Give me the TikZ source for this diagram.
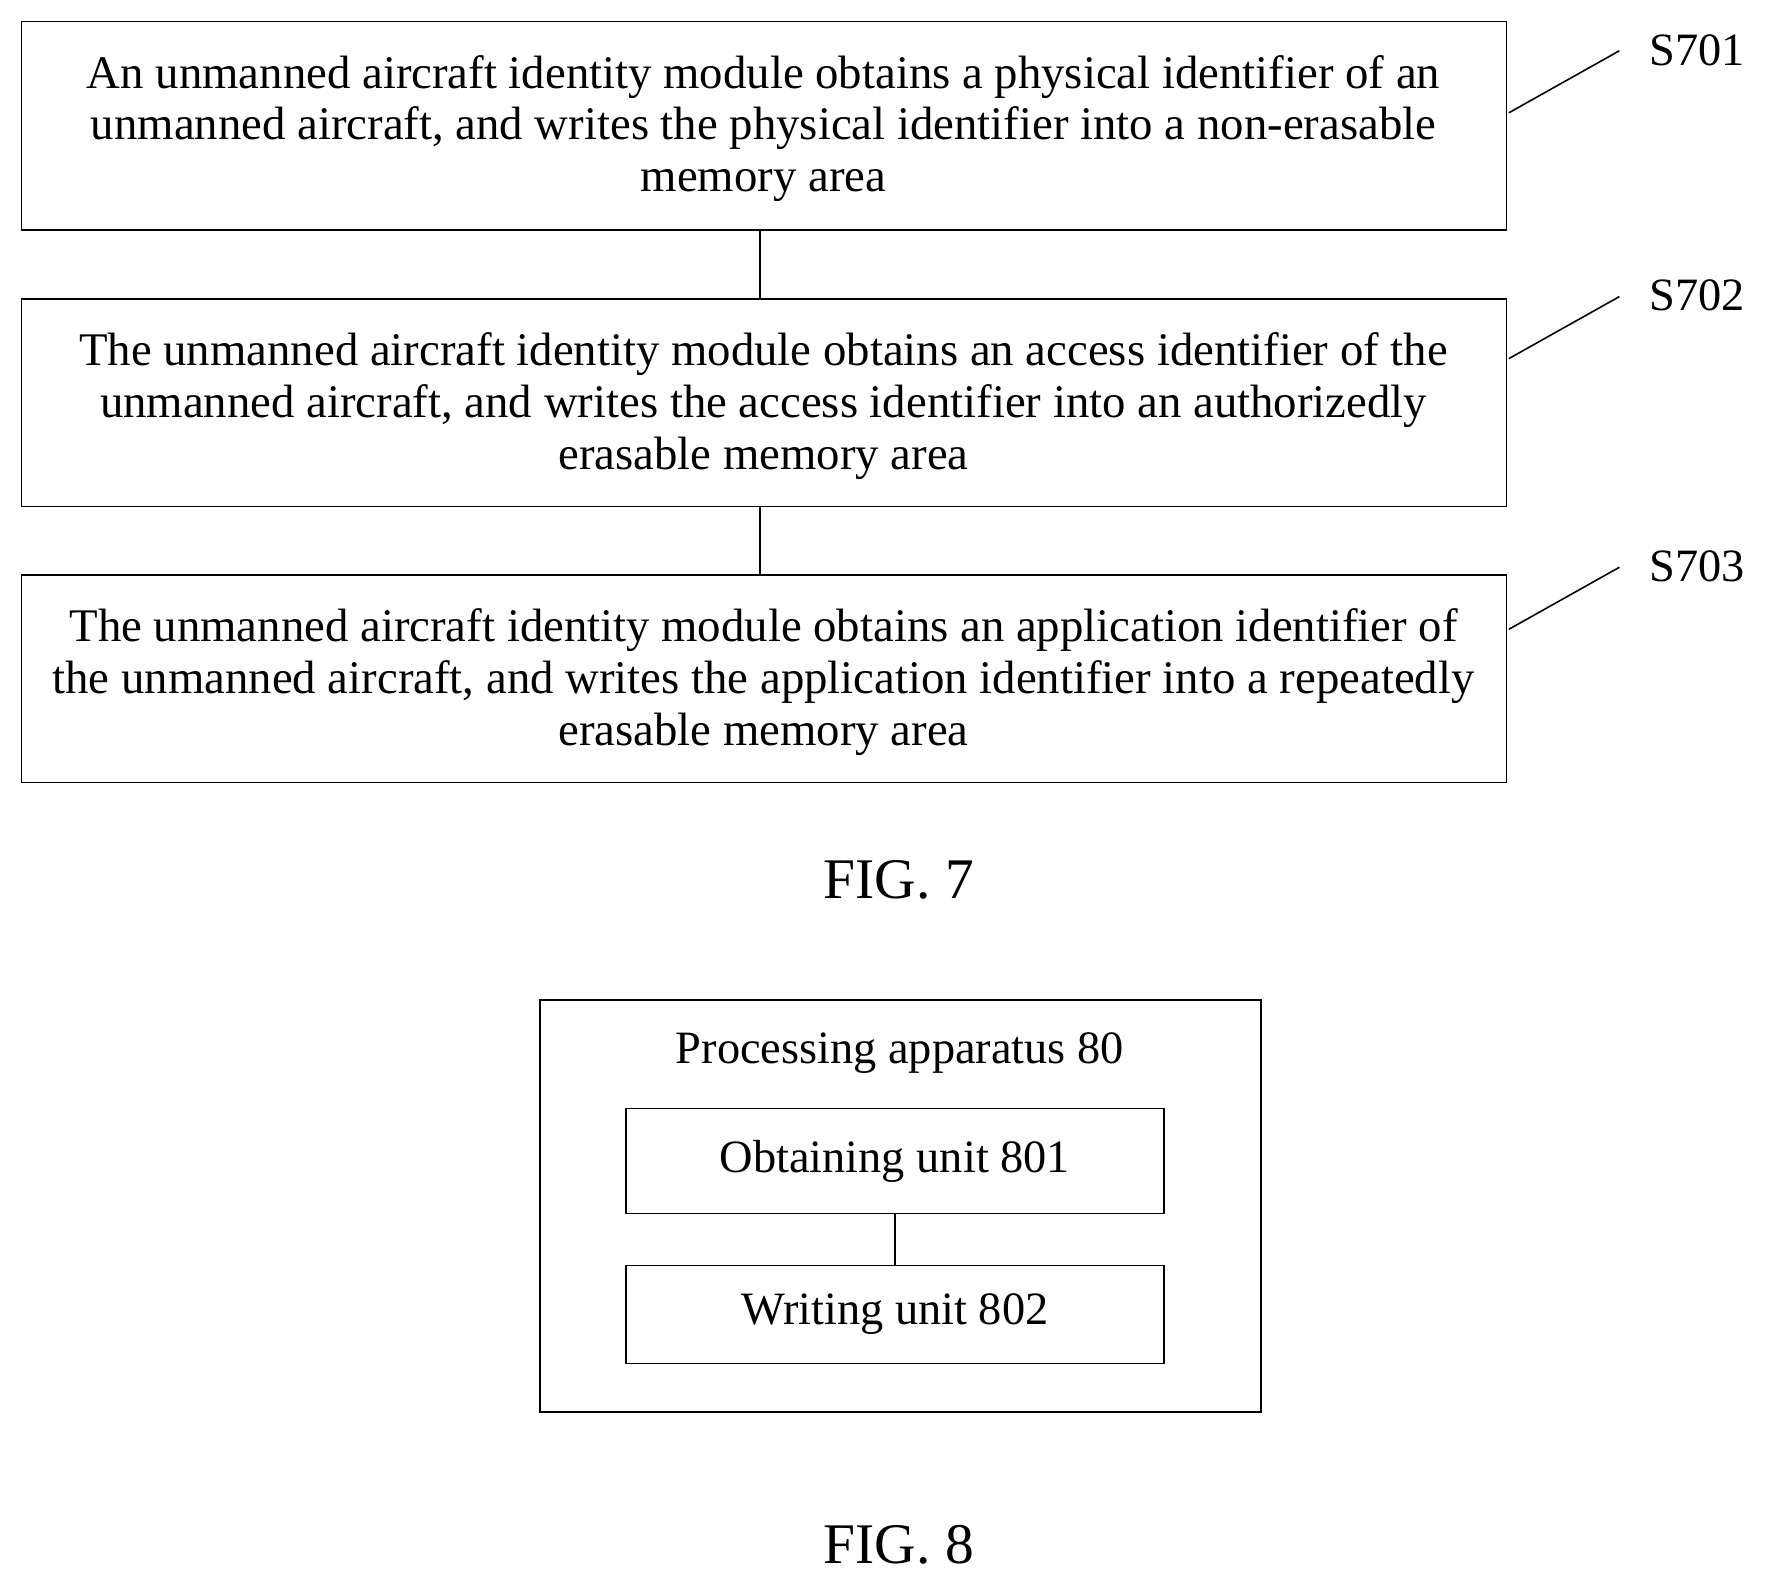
\documentclass[tikz,border=0pt]{standalone}
\usepackage{fontspec}
\setmainfont{Liberation Serif}
\begin{document}
\begin{tikzpicture}[x=0.02cm,y=-0.02cm,
  box/.style={draw,line width=0.8pt},
  txt/.style={align=center,font=\fontsize{23.6}{26.2}\selectfont},
  lbl/.style={font=\fontsize{23.4}{26}\selectfont},
  fig/.style={font=\fontsize{29}{32}\selectfont}]
\useasboundingbox (0,0) rectangle (1566,1406);
\draw[box] (19,19) rectangle (1336,204);
\draw[box] (19,265) rectangle (1336,449);
\draw[box] (19,510) rectangle (1336,694);
\node[txt] (t1) at (677,114) {An unmanned aircraft identity module obtains a physical identifier of an\\unmanned aircraft, and writes the physical identifier into a non-erasable\\memory area};
\node[txt] (t2) at (677,360) {The unmanned aircraft identity module obtains an access identifier of the\\unmanned aircraft, and writes the access identifier into an authorizedly\\erasable memory area};
\node[txt] (t3) at (677,605) {The unmanned aircraft identity module obtains an application identifier of\\the unmanned aircraft, and writes the application identifier into a repeatedly\\erasable memory area};
\coordinate (a1) at (674,204); \coordinate (b1) at (674,265);
\coordinate (a2) at (674,449); \coordinate (b2) at (674,510);
\draw[line width=0.8pt] (a1) -- (b1);
\draw[line width=0.8pt] (a2) -- (b2);
\node[lbl] (s1) at (1505,45) {S701};
\node[lbl] (s2) at (1505,262) {S702};
\node[lbl] (s3) at (1505,502) {S703};
\coordinate (p1) at (1338,100); \coordinate (q1) at (1436,45);
\coordinate (p2) at (1338,318); \coordinate (q2) at (1436,263);
\coordinate (p3) at (1338,558); \coordinate (q3) at (1436,503);
\draw[line width=0.8pt] (p1) -- (q1);
\draw[line width=0.8pt] (p2) -- (q2);
\draw[line width=0.8pt] (p3) -- (q3);
\node[fig] (f7) at (797,780) {FIG. 7};
\draw[box] (479,887) rectangle (1118,1252);
\node[lbl] (pa) at (798,934) {Processing apparatus 80};
\node[box,lbl,minimum width=477*0.02cm,minimum height=93*0.02cm] (ou) at (793.5,1029.5) {Obtaining unit 801};
\node[box,lbl,minimum width=477*0.02cm,minimum height=87*0.02cm] (wu) at (793.5,1165.5) {Writing unit 802};
\draw[line width=0.8pt] (ou) -- (wu);
\node[fig] (f8) at (797,1370) {FIG. 8};
\end{tikzpicture}
\end{document}
